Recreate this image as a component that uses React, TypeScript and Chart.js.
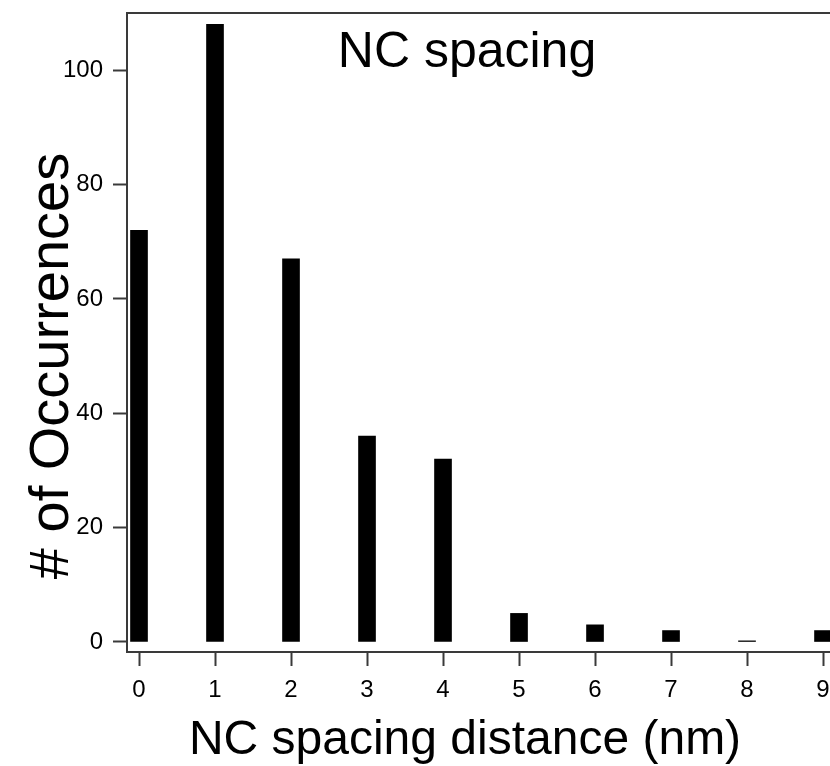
import React, { useEffect, useRef } from "react";
import { Chart, registerables } from "chart.js";

Chart.register(...registerables);

const SPACING_NM = [0, 1, 2, 3, 4, 5, 6, 7, 8, 9];
const OCCURRENCES = [72, 108, 67, 36, 32, 5, 3, 2, 0.2, 2];
const X_TICKS = [0, 1, 2, 3, 4, 5, 6, 7, 8, 9];
const Y_TICKS = [0, 20, 40, 60, 80, 100];

const TITLE = "NC spacing";
const X_TITLE = "NC spacing distance (nm)";
const Y_TITLE = "# of Occurrences";

const FONT = "'Liberation Sans', Arial, sans-serif";
const AXIS_COLOR = "#3a3a3a";

export default function App() {
  const ref = useRef<HTMLCanvasElement | null>(null);

  useEffect(() => {
    const canvas = ref.current;
    if (!canvas) return;

    const textPlugin = {
      id: "textPlugin",
      afterDraw(chart: any) {
        const ctx = chart.ctx;
        const area = chart.chartArea;
        ctx.save();
        // top frame line
        ctx.strokeStyle = AXIS_COLOR;
        ctx.lineWidth = 2;
        ctx.beginPath();
        ctx.moveTo(area.left - 1, area.top);
        ctx.lineTo(chart.width, area.top);
        ctx.stroke();

        ctx.fillStyle = "#000";
        ctx.textAlign = "center";
        ctx.textBaseline = "alphabetic";
        ctx.font = `50px ${FONT}`;
        ctx.fillText(TITLE, 467, 67);

        ctx.font = `48px ${FONT}`;
        ctx.fillText(X_TITLE, 465, 754);

        ctx.translate(68, 366);
        ctx.rotate(-Math.PI / 2);
        ctx.font = `56px ${FONT}`;
        ctx.fillText(Y_TITLE, 0, 0);
        ctx.restore();
      },
    };

    const chart = new Chart(canvas, {
      type: "bar",
      data: {
        datasets: [
          {
            data: SPACING_NM.map((x, i) => ({ x, y: OCCURRENCES[i] })),
            backgroundColor: "#000",
            borderWidth: 0,
            barThickness: 17,
          },
        ],
      },
      options: {
        animation: false,
        responsive: false,
        maintainAspectRatio: false,
        layout: { padding: { top: 13, left: 0, right: 10, bottom: 0 } },
        plugins: {
          legend: { display: false },
          tooltip: { enabled: false },
          title: { display: false },
        },
        scales: {
          x: {
            type: "linear",
            offset: false,
            min: -0.158,
            max: 9.355,
            afterBuildTicks: (scale: any) => {
              scale.ticks = X_TICKS.map((v) => ({ value: v }));
            },
            afterFit: (scale: any) => {
              scale.height = 114;
              scale.paddingLeft = 0;
              scale.paddingRight = 0;
            },
            ticks: {
              autoSkip: false,
              maxRotation: 0,
              padding: 10,
              color: "#000",
              font: { family: FONT, size: 24 },
              callback: (v: any) => String(v),
            },
            grid: {
              offset: false,
              drawOnChartArea: false,
              drawTicks: true,
              tickLength: 14,
              tickWidth: 2,
              tickColor: AXIS_COLOR,
            },
            border: { display: true, color: AXIS_COLOR, width: 2 },
          },
          y: {
            type: "linear",
            min: -1.75,
            max: 110,
            afterBuildTicks: (scale: any) => {
              scale.ticks = Y_TICKS.map((v) => ({ value: v }));
            },
            afterFit: (scale: any) => {
              scale.width = 127;
              scale.paddingTop = 0;
              scale.paddingBottom = 0;
            },
            ticks: {
              padding: 10,
              color: "#000",
              font: { family: FONT, size: 24 },
              callback: (v: any) => String(v),
            },
            grid: {
              drawOnChartArea: false,
              drawTicks: true,
              tickLength: 14,
              tickWidth: 2,
              tickColor: AXIS_COLOR,
            },
            border: { display: true, color: AXIS_COLOR, width: 2 },
          },
        },
      },
      plugins: [textPlugin],
    });

    return () => chart.destroy();
  }, []);

  return (
    <div
      style={{
        position: "fixed",
        top: 0,
        left: 0,
        width: 830,
        height: 766,
        overflow: "hidden",
        background: "#fff",
      }}
    >
      <canvas ref={ref} width={860} height={766} style={{ display: "block", width: 860, height: 766 }} />
    </div>
  );
}
